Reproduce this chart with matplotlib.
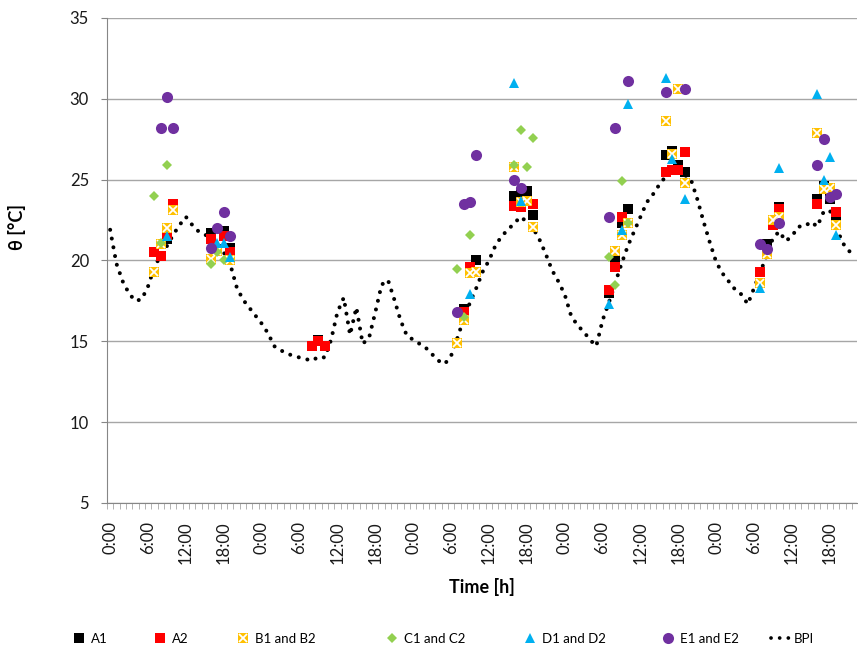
import numpy as np
import matplotlib
matplotlib.use("Agg")
import matplotlib.pyplot as plt
from matplotlib.lines import Line2D
from matplotlib.legend_handler import HandlerTuple

plt.rcParams['font.family'] = ['Lato', 'DejaVu Sans']

# BPI curve, hourly values from 0:00 of day 1
bpi = [21.9, 19.8, 18.7, 17.95, 17.5, 17.6, 18.4, 19.6, 20.3, 20.9, 21.6, 22.2,
       22.7, 22.2, 21.8, 21.6, 21.4, 21.1, 20.5, 19.8, 18.4, 17.6, 17.1, 16.6,
       16.1, 15.5, 14.7, 14.45, 14.25, 14.1, 14.0, 13.9, 13.8, 14.05, 14.0, 15.1,
       16.8, 17.7, 15.4, 17.1, 14.85, 15.2, 16.8, 18.5, 18.8, 17.6, 16.3, 15.35,
       15.1, 14.85, 14.6, 14.2, 13.8, 13.6, 14.1, 15.2, 16.4, 17.4, 18.3, 19.3,
       20.0, 20.9, 21.5, 21.9, 22.3, 22.7, 22.4, 22.0, 21.3, 20.4, 19.4, 18.7,
       17.9, 16.6, 16.0, 15.6, 15.1, 14.7, 16.3, 17.4, 18.6, 19.8, 20.9, 21.8,
       22.7, 23.6, 24.1, 24.7, 25.2, 25.5, 25.5, 25.3, 25.0, 23.8, 22.4, 21.1,
       19.9, 19.2, 18.7, 18.2, 17.9, 17.3, 18.3, 19.3, 20.3, 21.4, 21.8, 21.2,
       21.5, 22.1, 22.1, 22.4, 22.1, 23.0, 23.1, 22.1, 21.1, 20.6, 20.3]
bpi_h = np.arange(len(bpi))

# measured points (hour from start, temperature)
a1_h = [9, 16, 18, 19, 33, 56, 57, 58, 64, 65, 66, 67, 79, 80, 81, 82,
        88, 89, 90, 91, 104, 106, 112, 113, 114, 115]
a1_v = [21.3, 21.7, 21.8, 20.8, 15.1, 17.0, 19.3, 20.0, 24.0, 24.1, 24.3, 22.8,
        18.0, 20.0, 22.3, 23.2, 26.5, 26.8, 25.9, 25.5, 21.0, 23.3, 23.8, 24.6,
        23.8, 22.8]

a2_h = [7, 8, 9, 10, 16, 18, 19, 32, 33, 34, 56, 57, 64, 65, 67, 79, 80, 81,
        88, 89, 90, 91, 103, 105, 106, 112, 115]
a2_v = [20.5, 20.3, 21.6, 23.5, 21.3, 21.5, 20.5, 14.7, 15.0, 14.7, 16.8, 19.6,
        23.4, 23.3, 23.5, 18.2, 19.6, 22.7, 25.5, 25.6, 25.6, 26.7, 19.3, 22.2,
        23.2, 23.5, 23.0]

b_h = [7, 8, 9, 10, 16, 17, 19, 55, 56, 57, 58, 64, 65, 66, 67, 80, 81, 82,
       88, 89, 90, 91, 103, 104, 105, 106, 112, 113, 114, 115]
b_v = [19.3, 21.0, 22.0, 23.1, 20.1, 20.6, 20.0, 14.9, 16.3, 19.2, 19.3, 25.8,
       23.6, 23.7, 22.1, 20.6, 21.6, 22.3, 28.6, 26.6, 30.6, 24.8, 18.6, 20.4,
       22.5, 22.7, 27.9, 24.4, 24.5, 22.2]

c_h = [7, 8, 9, 16, 17, 18, 55, 56, 57, 64, 65, 66, 67, 79, 80, 81, 82]
c_v = [24.0, 21.1, 25.9, 19.8, 20.5, 20.0, 19.5, 16.5, 21.6, 25.9, 28.1, 25.8,
       27.6, 20.2, 18.5, 24.9, 22.3]

d_h = [9, 17, 18, 19, 57, 64, 65, 79, 81, 82, 88, 89, 91, 103, 106, 112, 113,
       114, 115]
d_v = [21.5, 21.1, 21.1, 20.2, 17.9, 31.0, 23.7, 17.3, 21.9, 29.7, 31.3, 26.3,
       23.8, 18.3, 25.7, 30.3, 25.0, 26.4, 21.6]

e_h = [8, 9, 10, 16, 17, 18, 19, 55, 56, 57, 58, 64, 65, 79, 80, 82, 88, 91,
       103, 104, 106, 112, 113, 114, 115]
e_v = [28.2, 30.1, 28.2, 20.8, 22.0, 23.0, 21.5, 16.8, 23.5, 23.6, 26.5, 25.0,
       24.5, 22.7, 28.2, 31.1, 30.4, 30.6, 21.0, 20.7, 22.3, 25.9, 27.5, 23.9,
       24.1]

tick_hours = np.arange(0, 118, 6)
tick_labels = ['%d:00' % (h % 24) for h in tick_hours]

fig = plt.figure(figsize=(8.58, 6.51), dpi=100)
ax = fig.add_axes([107 / 858, 1 - 503 / 651, 750 / 858, 485 / 651])

ax.plot(bpi_h, bpi, color='black', lw=2.9, ls=(0, (0.01, 2.2)),
        dash_capstyle='round', zorder=2)

ax.plot(a1_h, a1_v, 's', color='black', ms=6.8, mew=0, zorder=3)
ax.plot(a2_h, a2_v, 's', color='#FF0000', ms=6.8, mew=0, zorder=4)
ax.plot(b_h, b_v, 's', color='#FFC000', ms=6.8, mew=0, zorder=5)
ax.plot(b_h, b_v, 'x', color='white', ms=5.5, mew=1.3, zorder=5)
ax.plot(c_h, c_v, 'D', color='#92D050', ms=5, mew=0, zorder=6)
ax.plot(d_h, d_v, '^', color='#00B0F0', ms=7.5, mew=0, zorder=7)
ax.plot(e_h, e_v, 'o', color='#7030A0', ms=8, mew=0, zorder=8)

ax.set_xlim(-0.5, 118.3)
ax.set_ylim(5, 35)
ax.set_yticks(range(5, 36, 5))
ax.set_xticks(tick_hours)
ax.set_xticklabels(tick_labels, rotation=90)
ax.set_xticks(np.arange(-0.5, 118, 1), minor=True)

ax.grid(axis='y', color='#A6A6A6', lw=1)
ax.set_axisbelow(True)
for s in ['top', 'right']:
    ax.spines[s].set_visible(False)
for s in ['left', 'bottom']:
    ax.spines[s].set_color('#868686')
ax.tick_params(axis='y', colors='#868686', length=4, labelcolor='#1a1a1a',
               labelsize=12, pad=9)
ax.tick_params(axis='x', which='major', length=0, labelsize=12, pad=13,
               labelcolor='#1a1a1a')
ax.tick_params(axis='x', which='minor', length=4, color='#A6A6A6')

ax.set_xlabel('Time [h]', fontsize=13, fontweight='bold')
ax.xaxis.set_label_coords(0.5, -0.155)
ax.set_ylabel('θ [°C]', fontsize=13, fontweight='bold')
ax.yaxis.set_label_coords(-0.108, 0.569)

# legend, one entry at a time to match spacing
h_a1 = Line2D([], [], ls='', marker='s', color='black', ms=6.5, mew=0)
h_a2 = Line2D([], [], ls='', marker='s', color='#FF0000', ms=6.5, mew=0)
h_b = (Line2D([], [], ls='', marker='s', color='#FFC000', ms=6.5, mew=0),
       Line2D([], [], ls='', marker='x', color='white', ms=5.5, mew=1.3))
h_c = Line2D([], [], ls='', marker='D', color='#92D050', ms=5, mew=0)
h_d = Line2D([], [], ls='', marker='^', color='#00B0F0', ms=7.5, mew=0)
h_e = Line2D([], [], ls='', marker='o', color='#7030A0', ms=8, mew=0)
h_bpi = Line2D([], [], color='black', lw=2.7, ls=(0, (0.01, 2.3)),
               dash_capstyle='round')

leg_y = 1 - 639 / 651
entries = [(h_a1, 'A1', 72), (h_a2, 'A2', 153), (h_b, 'B1 and B2', 236),
           (h_c, 'C1 and C2', 385), (h_d, 'D1 and D2', 523),
           (h_e, 'E1 and E2', 661)]
for h, lab, x0 in entries:
    fig.legend([h], [lab], loc='center left', bbox_to_anchor=(x0 / 858, leg_y),
               frameon=False, borderpad=0, borderaxespad=0, handlelength=1.0,
               handletextpad=0.45, fontsize=9.5,
               handler_map={tuple: HandlerTuple(ndivide=1, pad=0)})
fig.legend([h_bpi], ['BPI'], loc='center left', bbox_to_anchor=(771 / 858, leg_y),
           frameon=False, borderpad=0, borderaxespad=0, handlelength=1.5,
           handletextpad=0.2, fontsize=9.5)

fig.savefig('out.png', dpi=100)
